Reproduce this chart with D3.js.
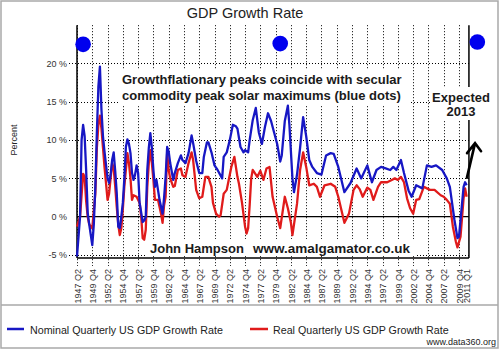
<!DOCTYPE html>
<html>
<head>
<meta charset="utf-8">
<script src="https://cdn.jsdelivr.net/npm/d3@7"></script>
<style>
  body { margin: 0; background: #fff; }
  svg { display: block; font-family: "Liberation Sans", Arial, sans-serif; }
</style>
</head>
<body>
<div id="chart"></div>
<script>
// x values are quarters counted from 1947 Q2 (0 = 1947 Q2, 4 = 1948 Q2 ...)
const tickQuarters = [0, 10, 20, 30, 40, 50, 60, 70, 80, 90, 100, 110, 120, 130, 140, 150, 160, 170, 180, 190, 200, 210, 220, 230, 240, 250, 255];
const tickLabels = ["1947 Q2", "1949 Q4", "1952 Q2", "1954 Q4", "1957 Q2", "1959 Q4", "1962 Q2", "1964 Q4", "1967 Q2", "1969 Q4",
  "1972 Q2", "1974 Q4", "1977 Q2", "1979 Q4", "1982 Q2", "1984 Q4", "1987 Q2", "1989 Q4", "1992 Q2", "1994 Q4",
  "1997 Q2", "1999 Q4", "2002 Q2", "2004 Q4", "2007 Q2", "2009 Q4", "2011 Q1"];
const yTicks = [-5, 0, 5, 10, 15, 20];

// Nominal quarterly US GDP growth rate, % [quarter, value]
const nominal = [[0,-5.2],[2,0],[3,10],[4,12],[5,10.5],[6,6],[7,0.5],[8,-1],[10,-3.7],[11,-1],[12,3.9],[13,11],[14,17],[15,19.6],[16,14],[17,10.5],[18,8.5],[20,5],[21,4.4],[22,5.5],[23,7.4],[24,8.4],[25,6],[26,3.1],[27,-1.3],[28,-1.5],[29,0],[30,1.8],[31,5],[32,9.1],[33,10.1],[34,9.5],[35,8.3],[36,5.7],[37,4.8],[38,5.5],[39,6.7],[40,5.7],[41,1.8],[43,-0.7],[44,-0.5],[45,0],[46,6.1],[47,9],[48,10.9],[49,9],[50,6.1],[51,3.9],[52,4.8],[53,3.5],[54,2.2],[56,0.4],[57,2.5],[58,5.2],[59,9.1],[60,8.5],[61,7],[63,4.8],[64,5.7],[66,7],[68,8],[69,7.4],[71,7],[73,8.3],[75,10.6],[76,9.6],[78,7.3],[79,6.5],[80,5.7],[82,5.7],[83,7.8],[85,9.7],[86,9.7],[88,8.4],[90,6.7],[92,6.1],[95,5],[96,7.8],[98,8.4],[100,10],[102,12],[104,11.8],[105,11.5],[107,9.1],[109,8.4],[110,8.7],[112,8.4],[113,10],[115,12.6],[117,14.2],[119,11],[121,9.5],[123,11.7],[125,13.5],[127,12.5],[129,11],[131,9.5],[133,7.2],[134,8],[136,12.5],[138,14.5],[139,12],[141,5],[142,3.2],[144,5.5],[146,9],[148,13],[150,10.5],[152,7.4],[154,6.5],[157,5.7],[160,5.5],[163,8],[166,8.3],[168,8.2],[171,6.5],[175,3.2],[179,4.4],[183,6.3],[186,5],[190,6.7],[193,4.5],[196,6.1],[199,6.5],[202,6.3],[205,6.1],[207,6.5],[209,6.1],[212,7.4],[214,5.7],[217,3.4],[219,2.6],[222,4.1],[226,3.7],[229,6.7],[232,6.5],[235,6.7],[239,6.1],[242,5],[244,3.9],[247,-0.4],[249,-2.8],[250,-2.6],[253,3.9],[254,4.5],[255,4.1]];

// Real quarterly US GDP growth rate, % [quarter, value]
const real = [[0,-1.3],[2,0],[4,5.6],[5,5.2],[6,2],[7,0],[8,-1],[10,-1.5],[12,3],[13,9],[14,12],[15,13.2],[16,11.5],[17,9],[18,6.5],[20,2.2],[21,3],[22,5],[23,7],[24,6.3],[25,4],[26,1.3],[27,-1],[28,-2.4],[29,-1.5],[30,1],[31,4],[32,6.1],[33,8.3],[34,7],[35,5],[36,2.2],[37,2.8],[39,2.6],[41,1.8],[42,0],[43,-2.8],[44,-3],[45,-1.7],[46,3.9],[47,7],[48,8.7],[49,7],[50,4.8],[51,2.2],[53,2.2],[55,0.4],[56,-0.8],[57,1.5],[58,2.6],[59,8.3],[60,6.1],[61,5],[63,3.9],[64,4],[66,6.1],[68,6.3],[69,5.4],[71,5.2],[73,7],[75,8.4],[76,7.4],[78,3.5],[80,2.4],[82,2.6],[84,5.2],[86,5.2],[87,4.5],[88,3.9],[89,1.8],[91,0.4],[93,0],[94,0.2],[96,3],[98,3.5],[99,4.5],[101,6.5],[103,7.8],[105,5.2],[106,4.3],[108,1.8],[110,-1.3],[111,-2.2],[112,-1.5],[113,1.5],[114,5],[115,6.1],[118,5.2],[120,6],[122,4.8],[124,6.3],[126,6.5],[128,2.6],[131,0],[133,-1.5],[136,2.6],[138,1.1],[140,-0.8],[141,-2.4],[144,1.7],[146,6.1],[148,8.4],[150,6.5],[152,4.1],[155,4.3],[157,3.9],[159,2.6],[162,4.1],[166,4.3],[169,3.9],[171,2.6],[173,0.9],[175,-0.8],[178,0.4],[181,3.5],[183,4.1],[185,3.6],[187,2.6],[190,3.8],[192,3.5],[194,2.2],[197,3.9],[199,4.5],[203,4.5],[206,4.8],[208,5],[210,4.8],[212,5.2],[214,4.5],[216,2.4],[218,1.1],[220,0.4],[222,2.2],[224,2.3],[227,3.9],[229,3.7],[231,3.5],[234,3.5],[238,2.8],[240,2.6],[242,2.2],[244,1.7],[246,-1.3],[248,-3.3],[249,-4],[251,-2.6],[253,2.4],[254,3.7],[255,2.6]];

// solar maximums (blue dots): 1948 Q2, 1980 Q3, expected 2012/13
const solarPeaks = [[4, 22.5], [133, 22.6], [262, 22.8]];

const width = 500, height = 350;
const blue = "#1717c4", red = "#e01b1b";

const svg = d3.select("#chart").append("svg")
  .attr("width", width)
  .attr("height", height);

svg.append("rect").attr("width", width).attr("height", height).attr("fill", "#fff");

// outer frame + legend separator
svg.append("rect")
  .attr("x", 1).attr("y", 1).attr("width", 497).attr("height", 347)
  .attr("fill", "none").attr("stroke", "#a9a9a9").attr("stroke-width", 1.5);
svg.append("line")
  .attr("x1", 1).attr("x2", 498).attr("y1", 305).attr("y2", 305)
  .attr("stroke", "#a9a9a9").attr("stroke-width", 1.5);

const x = d3.scaleLinear().domain([0, 250]).range([77, 459]);
const y = d3.scaleLinear().domain([-5, 25]).range([255, 25.2]);
const plotLeft = x(0), plotRight = x(256.5), plotTop = y(25), plotBottom = 258;

// title
svg.append("text")
  .attr("x", 245).attr("y", 18)
  .attr("text-anchor", "middle")
  .attr("font-size", "14.5px")
  .attr("fill", "#222")
  .text("GDP Growth Rate");

// dotted grid
const grid = svg.append("g")
  .attr("stroke", "#000")
  .attr("stroke-width", 1)
  .attr("stroke-dasharray", "1,2");
grid.selectAll(".hgrid")
  .data(yTicks.filter(d => d !== 0))
  .enter().append("line")
  .attr("x1", 69).attr("x2", plotRight)
  .attr("y1", d => Math.round(y(d)) + 0.5).attr("y2", d => Math.round(y(d)) + 0.5);
grid.selectAll(".vgrid")
  .data(tickQuarters.filter(q => q <= 250))
  .enter().append("line")
  .attr("x1", d => Math.round(x(d)) + 0.5).attr("x2", d => Math.round(x(d)) + 0.5)
  .attr("y1", plotTop).attr("y2", 266);

// white boxes behind annotation text
const boxes = [[118, 70, 292, 35], [430, 87, 62, 33], [147, 239, 268, 17]];
svg.selectAll(".tbox")
  .data(boxes)
  .enter().append("rect")
  .attr("x", d => d[0]).attr("y", d => d[1])
  .attr("width", d => d[2]).attr("height", d => d[3])
  .attr("fill", "#fff");

// frame lines and zero line
const frame = svg.append("g").attr("stroke", "#000").attr("fill", "none");
frame.append("line").attr("x1", plotLeft).attr("x2", plotLeft).attr("y1", plotTop).attr("y2", plotBottom).attr("stroke-width", 1.5);
frame.append("line").attr("x1", plotLeft).attr("x2", plotRight).attr("y1", plotBottom).attr("y2", plotBottom).attr("stroke-width", 1.5);
frame.append("line").attr("x1", plotRight).attr("x2", plotRight).attr("y1", plotTop).attr("y2", 87).attr("stroke-width", 1.5);
frame.append("line").attr("x1", plotRight).attr("x2", plotRight).attr("y1", 120).attr("y2", plotBottom).attr("stroke-width", 1.5);
frame.append("line").attr("x1", plotLeft).attr("x2", plotRight).attr("y1", y(0)).attr("y2", y(0)).attr("stroke-width", 1.2);

// y axis labels
const yAxis = svg.append("g")
  .attr("transform", `translate(${plotLeft},0)`)
  .call(d3.axisLeft(y).tickValues(yTicks).tickSize(0).tickPadding(10).tickFormat(d => d + " %"));
yAxis.select(".domain").remove();
yAxis.selectAll("text").attr("font-size", "9px").attr("fill", "#333").attr("font-family", "Liberation Sans, Arial, sans-serif");

// x axis labels (rotated)
const xAxis = svg.append("g")
  .attr("transform", `translate(0,${plotBottom})`)
  .call(d3.axisBottom(x).tickValues(tickQuarters).tickSize(0).tickFormat((d, i) => tickLabels[i]));
xAxis.select(".domain").remove();
xAxis.selectAll("text")
  .attr("transform", "rotate(-90)")
  .attr("x", -11).attr("y", 0).attr("dy", "0.35em")
  .attr("text-anchor", "end")
  .attr("font-size", "9px").attr("fill", "#333")
  .attr("font-family", "Liberation Sans, Arial, sans-serif");

// Percent label
svg.append("text")
  .attr("transform", "translate(17,140) rotate(-90)")
  .attr("text-anchor", "middle")
  .attr("font-size", "9px")
  .attr("fill", "#222")
  .text("Percent");

// series lines
const line = d3.line().x(d => x(d[0])).y(d => y(d[1]));
svg.append("path").datum(real)
  .attr("d", line).attr("fill", "none")
  .attr("stroke", red).attr("stroke-width", 2.3).attr("stroke-linejoin", "round");
svg.append("path").datum(nominal)
  .attr("d", line).attr("fill", "none")
  .attr("stroke", blue).attr("stroke-width", 2.3).attr("stroke-linejoin", "round");

// solar maximum dots
svg.selectAll(".peak")
  .data(solarPeaks)
  .enter().append("circle")
  .attr("cx", d => x(d[0])).attr("cy", d => y(d[1]))
  .attr("r", 7.8)
  .attr("fill", "#0000ee");

// annotations
const note = svg.append("g").attr("font-weight", "bold").attr("fill", "#1a1a1a");
note.append("text").attr("x", 122).attr("y", 84).attr("font-size", "13px")
  .text("Growthflationary peaks coincide with secular");
note.append("text").attr("x", 122).attr("y", 100).attr("font-size", "13px")
  .text("commodity peak solar maximums (blue dots)");
note.append("text").attr("x", 461).attr("y", 102).attr("font-size", "13px").attr("text-anchor", "middle").text("Expected");
note.append("text").attr("x", 461).attr("y", 116).attr("font-size", "13px").attr("text-anchor", "middle").text("2013");
note.append("text").attr("x", 150).attr("y", 253).attr("font-size", "13px").text("John Hampson");
note.append("text").attr("x", 253).attr("y", 253).attr("font-size", "13.5px").text("www.amalgamator.co.uk");

// arrow pointing up from the last reading
const tail = [x(255.2), y(5.1)], tip = [x(260.5), y(9.6)];
svg.append("path")
  .attr("d", `M${tail[0]},${tail[1]}L${tip[0]},${tip[1]}M${tip[0] - 8},${tip[1] + 10}L${tip[0]},${tip[1]}L${tip[0] + 6},${tip[1] + 8}`)
  .attr("fill", "none").attr("stroke", "#000").attr("stroke-width", 2.6)
  .attr("stroke-linejoin", "miter").attr("stroke-linecap", "round");

// legend
const legend = svg.append("g").attr("font-size", "10.7px").attr("fill", "#222");
legend.append("line").attr("x1", 7).attr("x2", 24).attr("y1", 329).attr("y2", 329).attr("stroke", blue).attr("stroke-width", 2.5);
legend.append("text").attr("x", 30).attr("y", 334).text("Nominal Quarterly US GDP Growth Rate");
legend.append("line").attr("x1", 250).attr("x2", 268).attr("y1", 329).attr("y2", 329).attr("stroke", red).attr("stroke-width", 2.5);
legend.append("text").attr("x", 273).attr("y", 334).text("Real Quarterly US GDP Growth Rate");

svg.append("text")
  .attr("x", 496).attr("y", 345)
  .attr("text-anchor", "end")
  .attr("font-size", "9px")
  .attr("fill", "#222")
  .text("www.data360.org");
</script>
</body>
</html>
